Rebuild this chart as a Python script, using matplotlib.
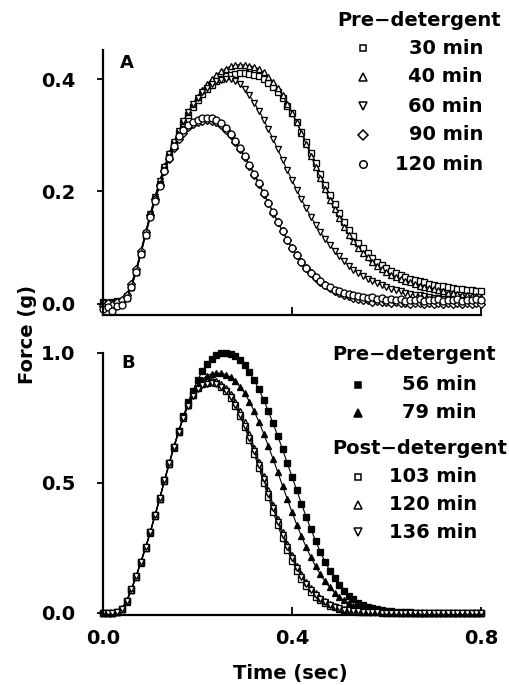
import numpy as np
import matplotlib
matplotlib.use("Agg")
import matplotlib.pyplot as plt
from matplotlib.lines import Line2D

plt.rcParams['font.family'] = ['DejaVu Sans']
plt.rcParams['font.weight'] = 'bold'

# sampling times (s)
time = np.round(np.arange(0, 0.801, 0.01), 2)

# ---------------- Panel A (Pre-detergent) ----------------
a_30 = [0.003, 0.001, 0.004, 0.002, 0.005, 0.012, 0.03, 0.056, 0.088, 0.122, 0.156, 0.186, 0.214, 0.24, 0.263, 0.285,
        0.305, 0.322, 0.337, 0.351, 0.363, 0.373, 0.382, 0.39, 0.396, 0.401, 0.405, 0.408, 0.41, 0.411, 0.411,
        0.41, 0.408, 0.405, 0.4, 0.394, 0.386, 0.377, 0.366, 0.353, 0.339, 0.323, 0.306, 0.288, 0.269, 0.25,
        0.231, 0.212, 0.194, 0.177, 0.161, 0.146, 0.132, 0.12, 0.109, 0.099, 0.09, 0.082, 0.075, 0.069, 0.064,
        0.059, 0.055, 0.051, 0.048, 0.045, 0.042, 0.04, 0.038, 0.036, 0.034, 0.032, 0.031, 0.029, 0.028, 0.027,
        0.026, 0.025, 0.024, 0.023, 0.022]
a_40 = [0.001, 0.003, 0.0, 0.004, 0.003, 0.011, 0.029, 0.056, 0.09, 0.125, 0.16, 0.191, 0.219, 0.245, 0.268, 0.289,
        0.307, 0.325, 0.341, 0.356, 0.369, 0.381, 0.391, 0.4, 0.408, 0.414, 0.419, 0.423, 0.425, 0.426, 0.425,
        0.424, 0.422, 0.418, 0.412, 0.404, 0.395, 0.384, 0.371, 0.356, 0.34, 0.323, 0.304, 0.284, 0.264, 0.244,
        0.224, 0.204, 0.185, 0.168, 0.152, 0.137, 0.123, 0.111, 0.1, 0.091, 0.083, 0.075, 0.068, 0.062, 0.057,
        0.052, 0.048, 0.044, 0.041, 0.038, 0.035, 0.032, 0.03, 0.028, 0.026, 0.024, 0.022, 0.02, 0.019, 0.017,
        0.016, 0.015, 0.014, 0.013, 0.012]
a_60 = [0.002, 0.0, 0.002, 0.005, 0.004, 0.013, 0.032, 0.058, 0.091, 0.126, 0.16, 0.19, 0.218, 0.244, 0.267, 0.288,
        0.307, 0.325, 0.341, 0.355, 0.367, 0.377, 0.385, 0.391, 0.396, 0.399, 0.4, 0.4, 0.397, 0.391, 0.382,
        0.371, 0.358, 0.344, 0.328, 0.311, 0.293, 0.275, 0.256, 0.238, 0.22, 0.203, 0.186, 0.17, 0.155, 0.141,
        0.128, 0.116, 0.105, 0.094, 0.085, 0.076, 0.068, 0.061, 0.055, 0.05, 0.045, 0.041, 0.037, 0.033, 0.03,
        0.027, 0.025, 0.022, 0.02, 0.018, 0.016, 0.015, 0.013, 0.012, 0.011, 0.01, 0.009, 0.008, 0.007, 0.006,
        0.006, 0.005, 0.005, 0.004, 0.004]
a_90 = [-0.004, 0.002, -0.002, 0.003, 0.006, 0.016, 0.036, 0.062, 0.094, 0.127, 0.158, 0.186, 0.212, 0.236, 0.258, 0.277,
        0.293, 0.305, 0.314, 0.32, 0.324, 0.326, 0.327, 0.326, 0.323, 0.318, 0.31, 0.3, 0.288, 0.275, 0.261,
        0.246, 0.23, 0.213, 0.196, 0.179, 0.162, 0.145, 0.129, 0.113, 0.099, 0.086, 0.074, 0.063, 0.054, 0.046,
        0.039, 0.033, 0.028, 0.023, 0.019, 0.016, 0.013, 0.011, 0.009, 0.007, 0.006, 0.004, 0.005, 0.003, 0.004,
        0.002, 0.003, 0.001, 0.002, 0.0, 0.002, 0.001, -0.001, 0.001, 0.0, 0.002, -0.001, 0.001, 0.0, 0.002,
        0.0, 0.001, -0.001, 0.001, 0.0]
a_120 = [-0.01, -0.006, -0.012, -0.004, -0.002, 0.01, 0.03, 0.057, 0.089, 0.122, 0.154, 0.183, 0.21, 0.236, 0.26, 0.281,
         0.298, 0.31, 0.318, 0.324, 0.328, 0.33, 0.331, 0.33, 0.327, 0.322, 0.313, 0.302, 0.29, 0.277, 0.263,
         0.248, 0.232, 0.215, 0.198, 0.18, 0.163, 0.146, 0.13, 0.114, 0.1, 0.087, 0.075, 0.064, 0.055, 0.047,
         0.04, 0.034, 0.029, 0.025, 0.022, 0.019, 0.017, 0.015, 0.013, 0.012, 0.01, 0.012, 0.008, 0.01, 0.007,
         0.009, 0.006, 0.008, 0.005, 0.007, 0.006, 0.008, 0.005, 0.007, 0.006, 0.008, 0.005, 0.007, 0.006, 0.008,
         0.005, 0.007, 0.006, 0.008, 0.006]

# ---------------- Panel B ----------------
b_56 = [0.0, 0.0, 0.001, 0.003, 0.016, 0.045, 0.09, 0.14, 0.195, 0.25, 0.31, 0.375, 0.44, 0.51, 0.575, 0.64,
        0.70, 0.757, 0.81, 0.855, 0.895, 0.93, 0.958, 0.978, 0.992, 0.999, 1.0, 0.996, 0.987, 0.972, 0.952,
        0.926, 0.895, 0.86, 0.82, 0.776, 0.729, 0.68, 0.629, 0.577, 0.524, 0.472, 0.42, 0.37, 0.322, 0.277,
        0.235, 0.197, 0.163, 0.133, 0.107, 0.085, 0.067, 0.052, 0.04, 0.031, 0.024, 0.018, 0.014, 0.011, 0.008,
        0.006, 0.005, 0.004, 0.003, 0.002, 0.001, 0.001, 0.001, 0.001, 0.001, 0.0, 0.0, 0.0, 0.0, 0.0,
        0.0, 0.0, 0.0, 0.0, 0.0]
b_79 = [0.0, 0.001, 0.0, 0.002, 0.014, 0.043, 0.088, 0.138, 0.193, 0.249, 0.309, 0.373, 0.438, 0.507, 0.572, 0.636,
        0.695, 0.752, 0.80, 0.842, 0.874, 0.898, 0.912, 0.92, 0.923, 0.922, 0.917, 0.907, 0.892, 0.871, 0.845,
        0.813, 0.776, 0.735, 0.69, 0.642, 0.592, 0.541, 0.489, 0.438, 0.388, 0.34, 0.295, 0.253, 0.214, 0.179,
        0.148, 0.121, 0.098, 0.078, 0.062, 0.048, 0.037, 0.028, 0.021, 0.016, 0.012, 0.009, 0.007, 0.005, 0.004,
        0.003, 0.002, 0.001, 0.001, 0.001, 0.001, 0.0, 0.0, 0.0, 0.0, 0.0, 0.0, 0.0, 0.0, 0.0,
        0.0, 0.0, 0.0, 0.0, 0.0]
b_103 = [0.0, 0.0, 0.0, 0.003, 0.017, 0.047, 0.092, 0.142, 0.197, 0.253, 0.313, 0.377, 0.442, 0.511, 0.576, 0.64,
         0.698, 0.752, 0.80, 0.838, 0.864, 0.879, 0.886, 0.888, 0.883, 0.871, 0.853, 0.828, 0.796, 0.758, 0.714,
         0.665, 0.612, 0.557, 0.501, 0.445, 0.39, 0.337, 0.287, 0.241, 0.2, 0.163, 0.131, 0.104, 0.082, 0.063,
         0.048, 0.037, 0.028, 0.021, 0.016, 0.012, 0.009, 0.007, 0.005, 0.004, 0.003, 0.002, 0.002, 0.001, 0.001,
         0.001, 0.001, 0.0, 0.0, 0.0, 0.0, 0.0, 0.0, 0.0, 0.0, 0.0, 0.0, 0.0, 0.0, 0.0,
         0.0, 0.0, 0.0, 0.0, 0.0]
b_120 = [0.0, 0.0, 0.001, 0.002, 0.015, 0.044, 0.089, 0.139, 0.194, 0.25, 0.31, 0.374, 0.439, 0.508, 0.573, 0.637,
         0.696, 0.751, 0.80, 0.84, 0.868, 0.885, 0.893, 0.895, 0.891, 0.881, 0.865, 0.842, 0.812, 0.776, 0.734,
         0.687, 0.636, 0.582, 0.527, 0.471, 0.416, 0.362, 0.311, 0.264, 0.221, 0.182, 0.148, 0.119, 0.095, 0.075,
         0.058, 0.045, 0.034, 0.026, 0.02, 0.015, 0.011, 0.008, 0.006, 0.005, 0.004, 0.003, 0.002, 0.002, 0.001,
         0.001, 0.001, 0.001, 0.0, 0.0, 0.0, 0.0, 0.0, 0.0, 0.0, 0.0, 0.0, 0.0, 0.0, 0.0,
         0.0, 0.0, 0.0, 0.0, 0.0]
b_136 = [0.0, 0.001, 0.0, 0.003, 0.016, 0.046, 0.091, 0.141, 0.196, 0.252, 0.312, 0.376, 0.441, 0.51, 0.575, 0.639,
         0.697, 0.751, 0.798, 0.835, 0.86, 0.875, 0.882, 0.884, 0.88, 0.869, 0.852, 0.829, 0.799, 0.763, 0.721,
         0.674, 0.623, 0.569, 0.514, 0.458, 0.403, 0.35, 0.3, 0.253, 0.211, 0.173, 0.14, 0.112, 0.088, 0.068,
         0.053, 0.041, 0.031, 0.023, 0.018, 0.013, 0.01, 0.008, 0.006, 0.004, 0.003, 0.002, 0.002, 0.001, 0.001,
         0.001, 0.0, 0.0, 0.0, 0.0, 0.0, 0.0, 0.0, 0.0, 0.0, 0.0, 0.0, 0.0, 0.0, 0.0,
         0.0, 0.0, 0.0, 0.0, 0.0]

labels_a = ["30 min", "40 min", "60 min", "90 min", "120 min"]
labels_b_pre = ["56 min", "79 min"]
labels_b_post = ["103 min", "120 min", "136 min"]

W, H = 510, 685
fig = plt.figure(figsize=(W / 100, H / 100), dpi=100)

def fx(x):
    return x / W

def fy(y):
    return 1 - y / H

axA = fig.add_axes([fx(103), fy(315), fx(481) - fx(103), fy(50) - fy(315)])
axB = fig.add_axes([fx(103), fy(615), fx(481) - fx(103), fy(353) - fy(615)])

FS = 14
open_kw = dict(mfc='white', mec='black', mew=0.95, color='black', lw=0.8)
fill_kw = dict(mfc='black', mec='black', mew=0.95, color='black', lw=0.8)

styles_a = [('s', 4.3), ('^', 5.0), ('v', 5.0), ('D', 4.3), ('o', 5.0)]
series_a = [a_30, a_40, a_60, a_90, a_120]
for (m, ms), ys in zip(styles_a, series_a):
    axA.plot(time, ys, marker=m, ms=ms, clip_on=False, **open_kw)

series_b = [b_56, b_79, b_103, b_120, b_136]
styles_b = [('s', 4.3, True), ('^', 5.0, True), ('s', 4.3, False), ('^', 5.0, False), ('v', 5.0, False)]
for (m, ms, filled), ys in zip(styles_b, series_b):
    kw = fill_kw if filled else open_kw
    axB.plot(time, ys, marker=m, ms=ms, clip_on=False, **kw)

for ax in (axA, axB):
    ax.set_xlim(0, 0.8)
    for s in ('top', 'right'):
        ax.spines[s].set_visible(False)
    for s in ('left', 'bottom'):
        ax.spines[s].set_linewidth(1.6)
    ax.set_xticks([0.0, 0.4, 0.8])
    ax.tick_params(axis='x', direction='in', length=6, width=1.3, labelsize=FS, pad=10)
    ax.tick_params(axis='y', direction='out', length=4, width=1.3, labelsize=FS, pad=16)

axA.set_ylim(-0.02, 0.452)
axA.set_yticks([0.0, 0.2, 0.4])
axA.set_yticklabels(["0.0", "0.2", "0.4"])
axA.set_xticklabels([])

axB.set_ylim(-0.008, 1.0)
axB.set_yticks([0.0, 0.5, 1.0])
axB.set_yticklabels(["0.0", "0.5", "1.0"])
axB.set_xticklabels(["0.0", "0.4", "0.8"])

fig.text(fx(290), fy(673), "Time (sec)", ha='center', va='center', fontsize=FS, fontweight='bold')
fig.text(fx(28), fy(334), "Force (g)", ha='center', va='center', rotation=90, fontsize=FS, fontweight='bold')
fig.text(fx(127), fy(63), "A", ha='center', va='center', fontsize=FS - 1, fontweight='bold')
fig.text(fx(128), fy(363), "B", ha='center', va='center', fontsize=FS - 1, fontweight='bold')

def legend_marker(x, y, m, ms, filled):
    fig.add_artist(Line2D([fx(x)], [fy(y)], transform=fig.transFigure, marker=m, ms=ms,
                          mfc='black' if filled else 'white', mec='black', mew=1.1, ls='none'))

# legend A
fig.text(fx(419), fy(20), "Pre\u2212detergent", ha='center', va='center', fontsize=FS, fontweight='bold')
for i, ((m, ms), lab) in enumerate(zip(styles_a, labels_a)):
    y = 48 + i * 29
    legend_marker(363, y, m, ms + 0.4, False)
    fig.text(fx(483), fy(y), lab, ha='right', va='center', fontsize=FS, fontweight='bold')

# legend B
fig.text(fx(414), fy(355), "Pre\u2212detergent", ha='center', va='center', fontsize=FS, fontweight='bold')
for i, lab in enumerate(labels_b_pre):
    y = 385 + i * 28
    m, ms, filled = styles_b[i]
    legend_marker(358, y, m, ms + 0.4, filled)
    fig.text(fx(477), fy(y), lab, ha='right', va='center', fontsize=FS, fontweight='bold')
fig.text(fx(420), fy(448), "Post\u2212detergent", ha='center', va='center', fontsize=FS, fontweight='bold')
for i, lab in enumerate(labels_b_post):
    y = 477 + i * 27.5
    m, ms, filled = styles_b[i + 2]
    legend_marker(358, y, m, ms + 0.4, filled)
    fig.text(fx(477), fy(y), lab, ha='right', va='center', fontsize=FS, fontweight='bold')

fig.savefig("out.png", dpi=100)
